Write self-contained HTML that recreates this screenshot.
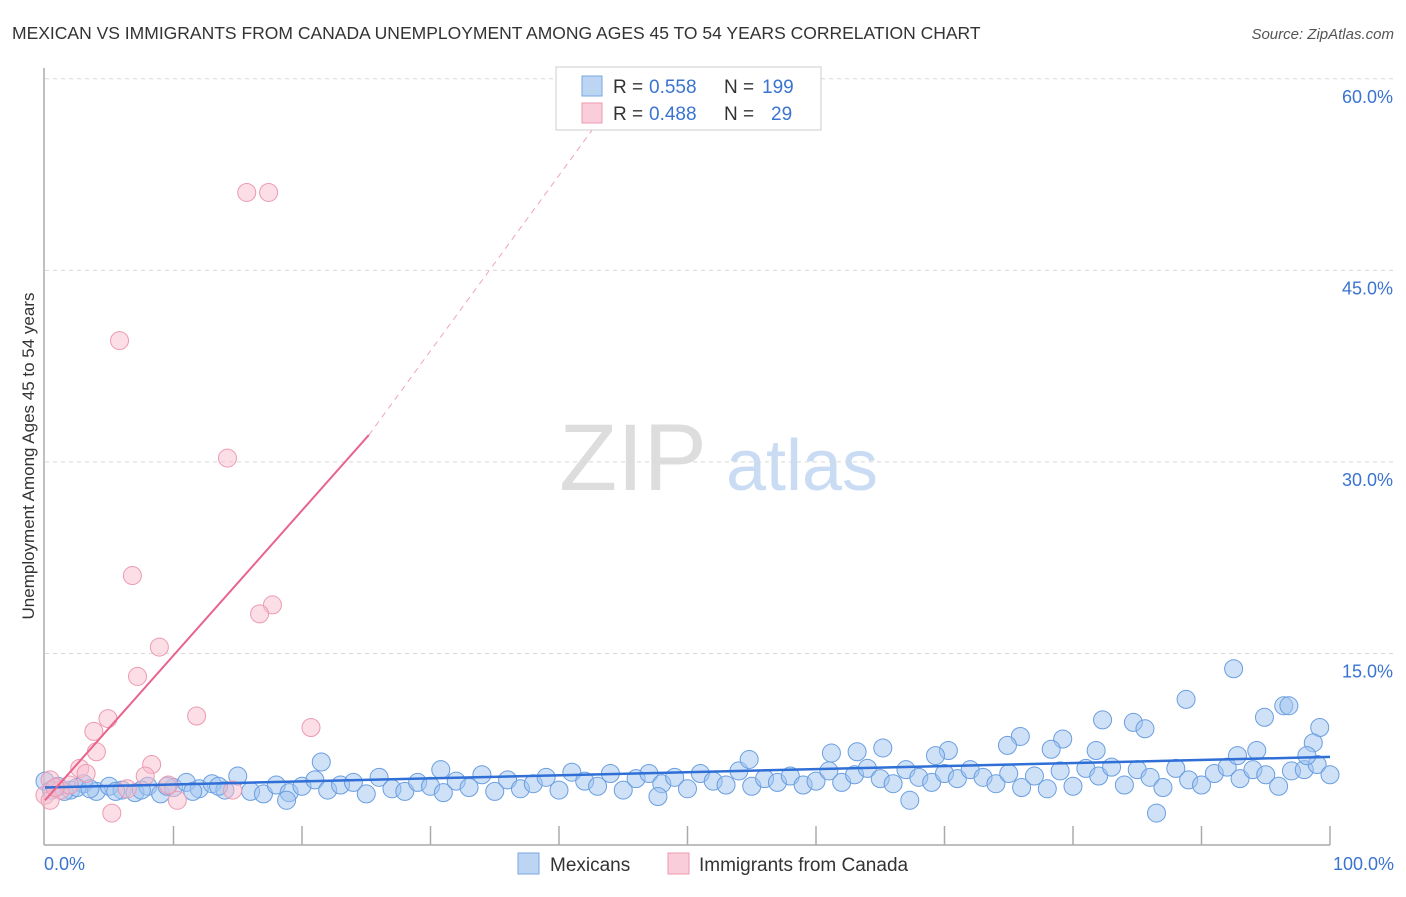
<!DOCTYPE html>
<html><head><meta charset="utf-8"><style>
body{margin:0;background:#fff;font-family:"Liberation Sans",sans-serif;}
svg text{font-family:"Liberation Sans",sans-serif;}
</style></head><body>
<svg width="1406" height="892" id="chart">
<text x="12" y="39" font-size="17.5" fill="#333">MEXICAN VS IMMIGRANTS FROM CANADA UNEMPLOYMENT AMONG AGES 45 TO 54 YEARS CORRELATION CHART</text>
<text x="1394" y="39" font-size="15" fill="#555" font-style="italic" text-anchor="end">Source: ZipAtlas.com</text>
<text x="34" y="456" font-size="17" fill="#333" text-anchor="middle" transform="rotate(-90 34 456)">Unemployment Among Ages 45 to 54 years</text>
<g>
<text x="633" y="490" font-size="95" font-family="Liberation Serif" fill="#ddd" text-anchor="middle">ZIP</text>
<text x="802" y="490" font-size="72" fill="#c9dcf3" text-anchor="middle">atlas</text>
</g>
<g id="grid"></g>
<g id="marks"></g>
<g>
<rect x="556" y="67" width="265" height="63" fill="#fff" stroke="#ccc"/>
<rect x="582" y="76" width="20" height="20" fill="#bcd5f3" stroke="#7aa6e0"/>
<rect x="582" y="103" width="20" height="20" fill="#f9cdd9" stroke="#ee9ab1"/>
<text x="613" y="93" font-size="19" fill="#333">R =</text>
<text x="649" y="93" font-size="19" fill="#3a74d0">0.558</text>
<text x="724" y="93" font-size="19" fill="#333">N =</text>
<text x="762" y="93" font-size="19" fill="#3a74d0">199</text>
<text x="613" y="120" font-size="19" fill="#333">R =</text>
<text x="649" y="120" font-size="19" fill="#3a74d0">0.488</text>
<text x="724" y="120" font-size="19" fill="#333">N =</text>
<text x="771" y="120" font-size="19" fill="#3a74d0">29</text>
</g>
<g>
<rect x="518" y="853" width="21" height="21" fill="#bcd5f3" stroke="#7aa6e0"/>
<text x="550" y="871" font-size="19" fill="#333">Mexicans</text>
<rect x="668" y="853" width="21" height="21" fill="#f9cdd9" stroke="#ee9ab1"/>
<text x="699" y="871" font-size="19" fill="#333">Immigrants from Canada</text>
</g>
</svg>
<script>
const yTicks=[15,30,45,60];
const yTickLabels=["15.0%","30.0%","45.0%","60.0%"];
const xLabels=["0.0%","100.0%"];
const blueX=[0,1,2,3,4,5,6,7,8,9,10,11,12,13,14,15,16,17,18,19,20,21,22,23,24,25,26,27,28,29,30,31,32,33,34,35,36,37,38,39,40,41,42,43,44,45,46,47,48,49,50,51,52,53,54,55,56,57,58,59,60,61,62,63,64,65,66,67,68,69,70,71,72,73,74,75,76,77,78,79,80,81,82,83,84,85,86,87,88,89,90,91,92,93,94,95,96,97,98,99,100,0.5,1.5,2.5,3.5,5.5,7.5,9.5,11.5,13.5,92.5,88.8,94.9,96.4,96.8,99.2,98.7,82.3,84.7,85.6,75.9,79.2,74.9,78.3,81.8,65.2,61.2,63.2,70.3,69.3,54.8,21.5,30.8,92.8,94.3,98.2,86.5,67.3,47.7,18.8];
const blueY=[5.0,4.6,4.3,4.8,4.2,4.6,4.3,4.1,4.6,4.0,4.5,4.9,4.4,4.8,4.3,5.4,4.2,4.0,4.7,4.1,4.6,5.1,4.3,4.7,4.9,4.0,5.3,4.4,4.2,4.9,4.6,4.1,5.0,4.5,5.5,4.2,5.1,4.4,4.8,5.3,4.3,5.7,5.0,4.6,5.6,4.3,5.2,5.6,4.8,5.3,4.4,5.6,5.0,4.7,5.8,4.6,5.2,4.9,5.4,4.7,5.0,5.8,4.9,5.5,6.0,5.2,4.8,5.9,5.3,4.9,5.6,5.2,5.9,5.3,4.8,5.6,4.5,5.4,4.4,5.8,4.6,6.0,5.4,6.1,4.7,5.9,5.3,4.5,6.0,5.1,4.7,5.6,6.1,5.2,5.9,5.5,4.6,5.8,5.9,6.3,5.5,4.3,4.2,4.5,4.4,4.2,4.3,4.6,4.2,4.6,13.8,11.4,10.0,10.9,10.9,9.2,8.0,9.8,9.6,9.1,8.5,8.3,7.8,7.5,7.4,7.6,7.2,7.3,7.4,7.0,6.7,6.5,5.9,7.0,7.4,7.0,2.5,3.5,3.8,3.5];
const pinkX=[15.7,17.4,5.8,14.2,6.8,17.7,16.7,8.9,7.2,11.8,20.7,4.9,3.8,4.0,8.3,2.7,7.8,3.2,0.4,1.2,9.6,10.3,5.2,14.6,0,1.9,6.4,0.4,0.8];
const pinkY=[51.1,51.1,39.5,30.3,21.1,18.8,18.1,15.5,13.2,10.1,9.2,9.9,8.9,7.3,6.3,6.0,5.4,5.6,5.1,4.3,4.7,3.5,2.5,4.3,3.9,4.7,4.4,3.5,4.5];
const blueTrend=[4.5,6.9];
const pinkTrend=[3.5,32.1,60];
const pinkTrendX=[0,25.2,45.5];
const X0=45,X1=1330,Y0=845,YPER=12.77;
const sx=v=>X0+(X1-X0)*v/100, sy=v=>Y0-v*YPER;
const NS="http://www.w3.org/2000/svg";
function mk(tag,attrs,parent){const e=document.createElementNS(NS,tag);for(const k in attrs)e.setAttribute(k,attrs[k]);parent.appendChild(e);return e;}
const grid=document.getElementById('grid'),marks=document.getElementById('marks');
yTicks.forEach((t,i)=>{
 const l=mk('line',{x1:X0,x2:1394,y1:sy(t),y2:sy(t),stroke:'#d8d8d8','stroke-dasharray':'4,4'},grid);
 
 
 const tx=mk('text',{x:1393,y:sy(t)+24,'font-size':18,fill:'#3a74d0','text-anchor':'end'},grid);
 tx.textContent=yTickLabels[i];
 
 
});
const ax=mk('line',{x1:X0-1,x2:X0-1,y1:68,y2:Y0,stroke:'#aaa','stroke-width':1.5},grid);


const bx=mk('line',{x1:X0-1,x2:X1,y1:Y0,y2:Y0,stroke:'#aaa','stroke-width':1.5},grid);


for(let i=1;i<=10;i++){const t=mk('line',{x1:sx(i*10),x2:sx(i*10),y1:Y0-19,y2:Y0,stroke:'#aaa','stroke-width':1.5},grid);
 
 }
[[0,'start',44],[100,'end',1394]].forEach((d,i)=>{const t=mk('text',{x:d[2],y:870,'font-size':18,fill:'#3a74d0','text-anchor':d[1]},grid);t.textContent=xLabels[i];
 
 });
blueX.forEach((x,i)=>{const c=mk('circle',{cx:sx(x),cy:sy(blueY[i]),r:9,fill:'rgba(160,195,240,0.5)',stroke:'#6a9ee0','stroke-width':1},marks);
 
 });
pinkX.forEach((x,i)=>{const c=mk('circle',{cx:sx(x),cy:sy(pinkY[i]),r:9,fill:'rgba(247,190,206,0.5)',stroke:'#ec9ab2','stroke-width':1},marks);
 
 });
const bt=mk('line',{x1:sx(0),y1:sy(blueTrend[0]),x2:sx(100),y2:sy(blueTrend[1]),stroke:'#2f6fd6','stroke-width':2.5},marks);


const pt=mk('line',{x1:sx(pinkTrendX[0]),y1:sy(pinkTrend[0]),x2:sx(pinkTrendX[1]),y2:sy(pinkTrend[1]),stroke:'#e8648c','stroke-width':2},marks);


const pd=mk('line',{x1:sx(pinkTrendX[1]),y1:sy(pinkTrend[1]),x2:sx(pinkTrendX[2]),y2:sy(pinkTrend[2]),stroke:'#efa3ba','stroke-width':1,'stroke-dasharray':'6,5'},marks);


</script>
</body></html>
